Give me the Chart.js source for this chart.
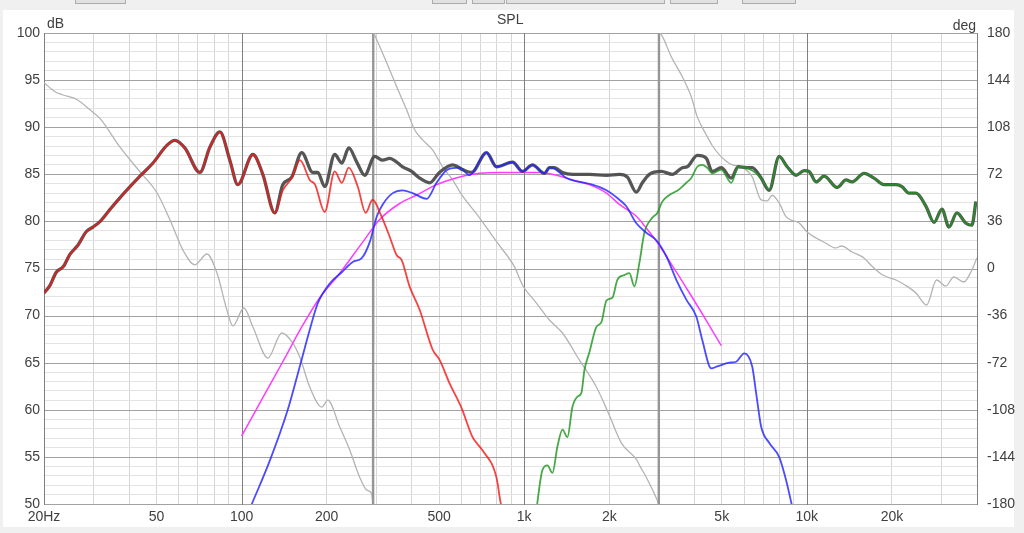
<!DOCTYPE html>
<html><head><meta charset="utf-8">
<script src="https://cdn.jsdelivr.net/npm/chart.js@4.4.1/dist/chart.umd.min.js"></script>
<style>
html,body{margin:0;padding:0;background:#f0f0f0;width:1024px;height:533px;overflow:hidden;font-family:"Liberation Sans",Arial,sans-serif;}
#panel{position:absolute;left:3px;top:10px;width:1011px;height:517px;background:#fff;}
.btn{position:absolute;top:-3px;height:5px;border:1px solid #adadad;background:#e1e1e1;}
#c{position:absolute;left:0;top:0;}
.lbl{position:absolute;font-size:14px;color:#404040;line-height:14px;white-space:nowrap;}
</style></head><body>
<div class="btn" style="left:75px;width:49px"></div>
<div class="btn" style="left:432px;width:33px"></div>
<div class="btn" style="left:472px;width:31px"></div>
<div class="btn" style="left:506px;width:157px"></div>
<div class="btn" style="left:670px;width:46px"></div>
<div class="btn" style="left:742px;width:52px"></div>
<div id="panel"></div>
<canvas id="c" width="1024" height="533"></canvas>
<div class="lbl" style="left:497px;top:12px">SPL</div>
<div class="lbl" style="left:47px;top:16px">dB</div>
<div class="lbl" style="right:48px;top:18px">deg</div>
<script>
// ---- data ----
const totalF = [20,21,22.1,23.4,24.7,26.4,28.2,29.8,31.6,34.3,37.1,43.7,48.6,54.5,58.1,63,71.2,77.3,83.8,90.9,97,109.7,118.9,131.1,139.9,150.5,163.3,178.6,186,196.9,213.6,226.3,239.5,255.6,272.7,295.8,315.8,334.3,353.9,371.5,399.7,426.6,462.8,501.7,558,605.2,651.2,735.8,798.1,909.4,986.1,1069.7,1179.6,1228.6,1279.5,1366,1481,1701,1954,2172,2318,2494,2618,2772,3056,3342,3626,3776,4096,4406,4627,4978,5402,5719,6102,6408,6893,7358,7981,8520,9166,9782,10186,10784,11510,12794,13766,14456,15937,17293,18754,20676,21716,22985,24332,26398,28182,30066,31833,33963,36552,38376,39640];
const totalDb = [72.4,73.2,74.6,75.2,76.5,77.5,78.9,79.4,80.0,81.3,82.5,84.8,86.2,88.1,88.6,87.8,85.2,87.9,89.5,86.5,83.9,87.1,85.0,80.9,83.9,84.7,87.3,85.2,85.2,83.7,87.1,86.2,87.8,86.3,84.9,86.9,86.5,86.7,86.3,85.8,85.3,84.6,84.1,85.2,86.0,85.5,85.2,87.3,85.8,86.3,85.3,86.0,85.1,85.7,85.7,85.2,85.0,85.0,84.9,85.0,84.7,83.1,84.1,85.0,85.3,85.0,85.7,85.8,87.0,86.7,85.3,85.7,84.6,85.8,85.7,85.7,84.6,83.3,86.9,85.8,84.9,85.4,85.3,84.2,84.8,83.6,84.4,84.2,85.1,84.6,83.9,83.9,83.7,83.0,83.0,81.6,79.9,81.3,79.4,80.9,79.8,79.6,82.1];

const wooferF = [20,21,22.1,23.4,24.7,26.4,28.2,29.8,31.6,34.3,37.1,43.7,48.6,54.5,58.1,63,71.2,77.3,83.8,90.9,97,109.7,118.9,131.1,139.9,150.5,161,174.3,182,196.9,213.6,226.3,239.5,257.6,275,290.8,313,334,354,368.6,393,427,474,502,544.6,600,656.6,712,798,824.6,860];
const wooferDb = [72.4,73.2,74.6,75.2,76.5,77.5,78.9,79.4,80.0,81.3,82.5,84.8,86.2,88.1,88.6,87.8,85.2,87.9,89.5,86.5,83.9,87.1,85.0,80.9,83.3,84.6,86.5,84.4,83.9,81.0,85.3,84.1,85.7,83.7,80.9,82.3,80.5,78.4,76.4,75.9,73.1,70.6,66.4,65.3,62.8,60.2,57.1,55.7,52.8,50.2,48.0];

const midF = [100,108.7,125.9,145.7,160.7,174.3,186,205.1,226.3,247.4,266.1,284.1,300.7,315.8,342.6,371.5,403,451.7,489.8,535.8,590.6,640.8,735.8,798.1,909.4,986.1,1069.7,1179.6,1228.6,1279.5,1411,1568,1743,1954,2172,2298,2494,2704,2934,3184,3453,3746,4064,4266,4590,4819,5315,5623,6004,6408,6622,6893,7358,7981,8450,8802,9300];
const midDb = [47.4,50.0,54.6,60.0,64.6,68.5,71.3,73.4,74.6,75.7,76.1,77.8,80.5,81.8,83.0,83.3,83.0,82.4,84.1,85.5,85.7,84.9,87.3,85.8,86.3,85.3,86.0,85.1,85.7,85.6,84.6,84.2,83.9,83.3,82.3,81.6,79.8,78.8,78.0,76.3,73.8,71.7,69.9,67.4,64.4,64.6,65.0,65.1,66.0,64.6,61.7,58.2,56.5,55.0,52.5,50.2,47.0];

const tweeterF = [1090,1114,1160,1208,1259,1311,1366,1422,1481,1543,1594,1633,1701,1801,1876,1954,2052,2136,2262,2356,2454,2556,2662,2841,2958,3081,3262,3537,3746,3900,4096,4266,4443,4627,4978,5402,5719,6408,6893,7358,7981,8520,9166,9782,10186,10784,11510,12794,13766,14456,15937,17293,18754,20676,21716,22985,24332,26398,28182,30066,31833,33963,36552,38376,39640];
const tweeterDb = [47.5,50.2,53.6,54.1,53.3,56.1,57.9,57.1,60.3,61.4,61.8,64.2,66.1,68.8,69.3,71.6,71.9,73.8,74.3,74.5,73.1,75.6,78.8,80.4,80.9,82.1,82.8,83.4,84.1,84.6,85.8,86.0,85.7,85.1,85.5,84.1,85.8,85.4,84.6,83.4,86.9,85.8,84.9,85.4,85.3,84.2,84.8,83.6,84.4,84.2,85.1,84.6,83.9,83.9,83.7,83.0,83.0,81.6,79.9,81.3,79.4,80.9,79.8,79.6,82.1];

const targetF = [100,118.9,139.9,163.3,189.1,222.6,268.3,308,362.6,416.4,489.8,544.6,605,695,816.6,1003,1133,1301,1481,1701,1954,2172,2504,2670,2934,3342,3844,4406,4978];
const targetDb = [57.2,61.3,65.1,68.8,71.9,74.5,77.8,80.2,81.9,82.8,83.9,84.4,84.8,85.1,85.2,85.2,85.2,84.9,84.4,83.9,83.0,81.8,80.5,79.5,77.9,75.3,72.4,69.5,66.8];

const phaseF = [20,21.9,23.2,26.2,29.1,31.6,37.1,43.7,50.2,55.8,62,68.4,75.4,81.8,88.7,93.2,101.9,109.7,123.9,138.8,151.8,160.7,174.3,192.2,201.8,222.6,241.4,261.8,277.2,288.6,292,292.4,300.7,326.2,353.9,383.7,409.6,437.2,474,514.4,558,605,678.5,804.6,924.4,986.1,1105,1228.6,1366,1568,1801,1985,2208,2504,2556,2704,2958,2994,2998,3056,3314,3626,3900,4096,4406,4627,4898,5186,5446,5860,6408,6893,7240,7540,7981,8450,9392,10023,10784,11652,12640,13274,14456,15782,17126,18572,20676,22246,24332,26525,28776,31025,33114,35922,38376,39960];
const phaseDeg = [142,135.1,132.8,129.0,121.3,114.5,93.0,73.9,57.9,37.2,14.2,2.8,11.1,-3.3,-31.6,-43.9,-30.2,-44.7,-68.4,-49.3,-57.0,-67.7,-90.6,-105.9,-100.6,-121.2,-138.8,-159.5,-169.4,-172,-180,180,174.9,157.3,138.9,121.3,106.0,98.3,90.7,77.7,67.7,55.5,41.7,19.5,1.2,-12.6,-26.4,-39.4,-49.3,-70.0,-90.6,-110.5,-133.5,-146.5,-150.3,-159.5,-177.1,-180,180,178.7,161.9,146.6,131.3,115.9,102.2,94,87,82,79.2,77.7,70,52.4,51.7,56,50.1,39.4,34.8,27.9,23.3,19.5,15.7,17.2,12.6,8.7,1.1,-5.0,-8.8,-12.6,-18.7,-27.9,-8.8,-13.4,-6.5,-10.3,-1.1,8.1];

const xTickValues = [20,50,100,200,500,1000,2000,5000,10000,20000];
const xTickText = ['20Hz','50','100','200','500','1k','2k','5k','10k','20k'];
const xMajor = [20,100,1000,10000,40000];
const degTicks = [-180,-144,-108,-72,-36,0,36,72,108,144,180];

// ---- build ----
const pts = (f, v) => f.map((x, i) => ({x: x, y: v[i]}));
const gridVals = [];
[10,100,1000,10000].forEach(d => { for (let k = 1; k <= 9; k++) { const v = k*d; if (v >= 20 && v <= 40000) gridVals.push(v); } });
gridVals.push(40000);
const yVals = []; for (let v = 50; v <= 100; v++) yVals.push(v);
const FONT = {family: '"Liberation Sans", Arial, sans-serif', size: 14};
const TXT = '#404040';
const MAJ_H = '#a2a2a2', MAJ_V = '#808080', NONE = 'rgba(0,0,0,0)';

function ds(label, f, v, color, width, order, axis) {
  return {label, data: pts(f, v), borderColor: color, borderWidth: width, pointRadius: 0,
    cubicInterpolationMode: 'monotone', fill: false, order, yAxisID: axis || 'y'};
}
const phaseSet = ds('phase', phaseF, phaseDeg, '#b4b4b4', 1.3, 5, 'y2');
phaseSet.segment = {
  borderColor: c => Math.abs(c.p1.parsed.y - c.p0.parsed.y) > 300 ? '#969696' : undefined,
  borderWidth: c => Math.abs(c.p1.parsed.y - c.p0.parsed.y) > 300 ? 2.4 : undefined
};

// major grid lines drawn above the minor ones (still under the curves)
const majorGrid = {
  id: 'majorGrid',
  beforeDatasetsDraw(chart) {
    const {ctx, chartArea: a} = chart;
    const xs = chart.scales.x, ys = chart.scales.y;
    ctx.save();
    ctx.lineWidth = 1;
    ctx.strokeStyle = MAJ_H;
    yVals.filter(v => v % 5 === 0).forEach(v => {
      const py = Math.round(ys.getPixelForValue(v)) + 0.5;
      ctx.beginPath(); ctx.moveTo(a.left, py); ctx.lineTo(a.right + 1, py); ctx.stroke();
    });
    ctx.strokeStyle = MAJ_V;
    xMajor.forEach(v => {
      const px = Math.round(xs.getPixelForValue(v)) + 0.5;
      ctx.beginPath(); ctx.moveTo(px, a.top); ctx.lineTo(px, a.bottom + 1); ctx.stroke();
    });
    ctx.restore();
  }
};

new Chart(document.getElementById('c'), {
  type: 'line',
  data: {datasets: [
    ds('woofer', wooferF, wooferDb, 'rgba(245,25,25,0.82)', 1.8, 0),
    ds('mid', midF, midDb, 'rgba(35,35,255,0.82)', 1.8, 0),
    ds('tweeter', tweeterF, tweeterDb, 'rgba(30,150,30,0.82)', 1.8, 0),
    ds('total', totalF, totalDb, 'rgba(72,72,72,0.92)', 3.3, 1),
    ds('target', targetF, targetDb, '#ff3cff', 1.5, 2),
    phaseSet
  ]},
  plugins: [majorGrid],
  options: {
    responsive: false, animation: false, devicePixelRatio: 1,
    layout: {padding: {top: 33, left: 0, right: 0, bottom: 0}},
    plugins: {legend: {display: false}, tooltip: {enabled: false}, title: {display: false}},
    scales: {
      x: {type: 'logarithmic', min: 20, max: 40000, position: 'bottom',
        afterBuildTicks: s => { s.ticks = gridVals.map(v => ({value: v})); },
        afterFit: s => { s.height = 29; },
        grid: {drawTicks: false, lineWidth: 1,
          color: c => (c.tick && xMajor.includes(c.tick.value)) ? NONE : '#d6d6d6'},
        border: {display: false},
        ticks: {autoSkip: false, maxRotation: 0, padding: 5, color: TXT, font: FONT,
          callback: v => { const i = xTickValues.indexOf(v); return i >= 0 ? xTickText[i] : ''; }}
      },
      y: {position: 'left', min: 50, max: 100,
        afterBuildTicks: s => { s.ticks = yVals.map(v => ({value: v})); },
        afterFit: s => { s.width = 44; },
        grid: {drawTicks: false, lineWidth: 1,
          color: c => (c.tick && c.tick.value % 5 === 0) ? NONE : '#e3e3e3'},
        border: {display: false},
        ticks: {autoSkip: false, padding: 4, color: TXT, font: FONT,
          callback: v => v % 5 === 0 ? String(v) : ''}
      },
      y2: {position: 'right', min: -180, max: 180,
        afterBuildTicks: s => { s.ticks = degTicks.map(v => ({value: v})); },
        afterFit: s => { s.width = 47; },
        grid: {drawOnChartArea: false, drawTicks: false},
        border: {display: false},
        ticks: {autoSkip: false, padding: 10, color: TXT, font: FONT}
      }
    }
  }
});
</script>
</body></html>
